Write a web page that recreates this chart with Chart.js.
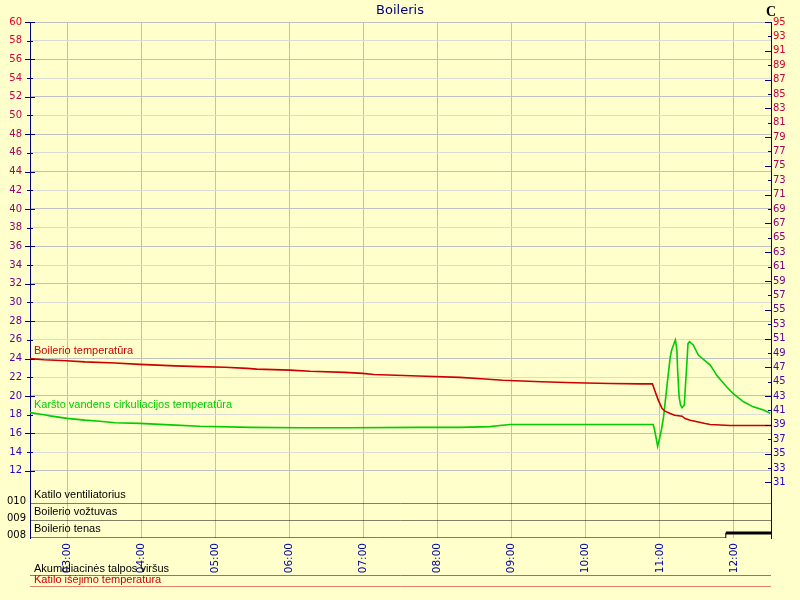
<!DOCTYPE html>
<html>
<head>
<meta charset="utf-8">
<title>Boileris</title>
<script src="https://cdn.jsdelivr.net/npm/chart.js@4.4.0/dist/chart.umd.min.js"></script>
<style>
    body { margin: 0; background: #ffffcc; }
    #wrap { position: relative; width: 800px; height: 600px; }
    #wrap canvas { position: absolute; left: 0; }
    #mainChart { top: 0; }
    #bottomChart { top: 560px; }
</style>
</head>
<body>
<div id="wrap">
    <canvas id="mainChart" width="800" height="600"></canvas>
    <canvas id="bottomChart" width="800" height="40"></canvas>
</div>
<script>
// =====================
// Data (time in hours, temperature in C)
// =====================
const xTicks = [3, 4, 5, 6, 7, 8, 9, 10, 11, 12];
const leftTicks = [12, 14, 16, 18, 20, 22, 24, 26, 28, 30, 32, 34, 36, 38, 40, 42, 44, 46, 48, 50, 52, 54, 56, 58, 60];
const rightTicks = [31, 33, 35, 37, 39, 41, 43, 45, 47, 49, 51, 53, 55, 57, 59, 61, 63, 65, 67, 69, 71, 73, 75, 77, 79, 81, 83, 85, 87, 89, 91, 93, 95];

const boilerTimes = [2.5, 2.69, 2.99, 3.24, 3.65, 3.98, 4.46, 4.79, 5.13, 5.43, 5.56, 6.01, 6.28, 6.75, 6.99, 7.14, 7.74, 8.30, 8.59, 8.88, 9.40, 9.85, 10.33, 10.73, 10.90, 10.93, 10.98, 11.03, 11.07, 11.14, 11.20, 11.30, 11.34, 11.41, 11.52, 11.61, 11.68, 11.95, 12.5];
const boilerTemps = [48.2, 48.05, 47.9, 47.75, 47.6, 47.4, 47.2, 47.1, 47.0, 46.85, 46.75, 46.6, 46.45, 46.3, 46.15, 46.0, 45.8, 45.6, 45.4, 45.2, 45.0, 44.85, 44.75, 44.7, 44.7, 43.8, 42.4, 41.27, 40.9, 40.58, 40.34, 40.2, 39.88, 39.65, 39.4, 39.18, 39.05, 38.9, 38.9];

const circTimes = [2.5, 2.69, 2.77, 3.0, 3.24, 3.44, 3.65, 3.98, 4.39, 4.79, 5.47, 6.14, 6.82, 7.76, 8.30, 8.71, 8.84, 8.98, 10.19, 10.91, 10.93, 10.96, 10.97, 10.99, 11.02, 11.05, 11.08, 11.11, 11.14, 11.16, 11.20, 11.21, 11.23, 11.24, 11.26, 11.28, 11.30, 11.33, 11.35, 11.37, 11.38, 11.40, 11.45, 11.52, 11.60, 11.68, 11.77, 11.90, 11.99, 12.13, 12.26, 12.40, 12.49];
const circTemps = [40.7, 40.4, 40.25, 39.9, 39.65, 39.5, 39.3, 39.2, 39.0, 38.8, 38.65, 38.6, 38.6, 38.65, 38.65, 38.75, 38.9, 39.05, 39.05, 39.05, 38.25, 36.6, 36.0, 36.85, 38.25, 40.1, 42.9, 45.7, 48.45, 49.4, 50.55, 50.8, 49.4, 46.6, 42.9, 41.73, 41.4, 41.73, 45.2, 48.45, 50.3, 50.55, 50.1, 48.7, 48.0, 47.3, 45.85, 44.3, 43.35, 42.2, 41.5, 41.05, 40.6];

// digital channels (0 = off, 1 = on)
const fanTimes = [2.5, 12.5];
const fanStates = [0, 0];
const valveTimes = [2.5, 12.5];
const valveStates = [0, 0];
const heaterTimes = [2.5, 11.88, 11.89, 12.5];
const heaterStates = [0, 0, 1, 1];

const tankTopTimes = [2.5, 12.5];
const tankTopValues = [0, 0];
const boilerOutTimes = [2.5, 12.5];
const boilerOutValues = [0, 0];

function toPoints(xs, ys) {
    return xs.map((x, i) => ({ x: x, y: ys[i] }));
}

function fmtHour(v) {
    return (v < 10 ? '0' : '') + v + ':00';
}

// red at the top of the scale, blue at the bottom
function gradColor(f) {
    const r = Math.round(230 + (40 - 230) * f);
    const b = Math.round(40 + (210 - 40) * f);
    return 'rgb(' + r + ',0,' + b + ')';
}

const NAVY = '#000080';
const tickFont = { family: 'DejaVu Sans', size: 10 };

// =====================
// Plugins
// =====================
const tickMarks = {
    id: 'tickMarks',
    afterDraw(chart) {
        const ctx = chart.ctx;
        const yl = chart.scales.yL;
        const yr = chart.scales.yR;
        ctx.save();
        ctx.strokeStyle = NAVY;
        ctx.lineWidth = 1;
        ctx.beginPath();
        yl.ticks.forEach(t => {
            const y = Math.round(yl.getPixelForValue(t.value)) + 0.5;
            const len = t.value % 4 === 0 ? 5 : 3;
            ctx.moveTo(yl.right - len, y);
            ctx.lineTo(yl.right + len, y);
        });
        yr.ticks.forEach(t => {
            const y = Math.round(yr.getPixelForValue(t.value)) + 0.5;
            const len = (95 - t.value) % 4 === 0 ? 6 : 3;
            ctx.moveTo(yr.left - len, y);
            ctx.lineTo(yr.left + 1, y);
        });
        ctx.stroke();

        // unit label over the right axis
        ctx.fillStyle = '#000000';
        ctx.font = 'bold 14px "Liberation Serif"';
        ctx.textAlign = 'center';
        ctx.textBaseline = 'middle';
        ctx.fillText('C', yr.left, 12);
        ctx.restore();
    }
};

const seriesLabels = {
    id: 'seriesLabels',
    afterDatasetsDraw(chart) {
        const ctx = chart.ctx;
        const left = chart.chartArea.left + 4;
        ctx.save();
        ctx.font = '11px "Liberation Sans"';
        ctx.textAlign = 'left';
        chart.data.datasets.forEach(ds => {
            const scale = chart.scales[ds.yAxisID];
            ctx.fillStyle = ds.textColor || ds.borderColor;
            if (ds.digital) {
                ctx.textBaseline = 'top';
                ctx.fillText(ds.label, left, scale.top + 2);
            } else {
                ctx.textBaseline = 'bottom';
                ctx.fillText(ds.label, left, scale.getPixelForValue(ds.data[0].y) - 2);
            }
        });
        ctx.restore();
    }
};

// =====================
// Main chart
// =====================
function digitalAxis(code, order) {
    return {
        type: 'linear',
        position: 'left',
        stack: 'left',
        stackWeight: 17,
        weight: order,
        min: 0,
        max: 3.4,
        afterFit: s => { s.width = 30; },
        afterBuildTicks: s => { s.ticks = [{ value: 0.6 }]; },
        grid: { drawOnChartArea: false, drawTicks: false },
        border: { color: NAVY },
        ticks: { callback: () => code, color: '#000000', font: tickFont, padding: 4 }
    };
}

new Chart(document.getElementById('mainChart'), {
    type: 'line',
    data: {
        datasets: [
            {
                label: 'Boilerio temperatūra',
                data: toPoints(boilerTimes, boilerTemps),
                yAxisID: 'yR',
                borderColor: '#cc0000',
                borderWidth: 1.6
            },
            {
                label: 'Karšto vandens cirkuliacijos temperatūra',
                data: toPoints(circTimes, circTemps),
                yAxisID: 'yR',
                borderColor: '#00cc00',
                borderWidth: 1.6
            },
            {
                label: 'Katilo ventiliatorius',
                data: toPoints(fanTimes, fanStates),
                yAxisID: 'd10',
                digital: true,
                borderColor: '#000000',
                borderWidth: 1
            },
            {
                label: 'Boilerio vožtuvas',
                data: toPoints(valveTimes, valveStates),
                yAxisID: 'd9',
                digital: true,
                borderColor: '#000000',
                borderWidth: 1
            },
            {
                label: 'Boilerio tenas',
                data: toPoints(heaterTimes, heaterStates),
                yAxisID: 'd8',
                digital: true,
                borderColor: '#000000',
                borderWidth: 1,
                segment: {
                    borderWidth: c => (c.p0.parsed.y > 0.5 && c.p1.parsed.y > 0.5) ? 3 : 1
                }
            }
        ]
    },
    options: {
        responsive: false,
        animation: false,
        layout: { padding: 0 },
        elements: { point: { radius: 0 }, line: { tension: 0 } },
        plugins: {
            legend: { display: false },
            tooltip: { enabled: false },
            title: {
                display: true,
                text: 'Boileris',
                color: NAVY,
                font: { family: 'DejaVu Sans', size: 13, weight: 'normal' },
                padding: { top: 3, bottom: 3.4 }
            }
        },
        scales: {
            x: {
                type: 'linear',
                min: 2.5,
                max: 12.5,
                afterFit: s => { s.height = 62; },
                afterBuildTicks: s => { s.ticks = xTicks.map(v => ({ value: v })); },
                grid: { color: '#c0c0c0', drawTicks: false },
                border: { display: false },
                ticks: {
                    callback: v => fmtHour(v),
                    color: '#0000a0',
                    font: { family: 'DejaVu Sans', size: 10.5 },
                    minRotation: 90,
                    maxRotation: 90,
                    padding: 5,
                    autoSkip: false
                }
            },
            yL: {
                type: 'linear',
                position: 'left',
                stack: 'left',
                stackWeight: 465,
                weight: 4,
                min: 10.26,
                max: 60,
                afterFit: s => { s.width = 30; },
                afterBuildTicks: s => { s.ticks = leftTicks.map(v => ({ value: v })); },
                grid: {
                    drawTicks: false,
                    color: c => (c.tick && c.tick.value % 4 === 0) ? '#c0c0c0' : '#dadad6'
                },
                border: { color: NAVY },
                ticks: {
                    font: tickFont,
                    padding: 8,
                    autoSkip: false,
                    color: c => gradColor((60 - c.tick.value) / 48)
                }
            },
            d10: digitalAxis('010', 3),
            d9: digitalAxis('009', 2),
            d8: digitalAxis('008', 1),
            yR: {
                type: 'linear',
                position: 'right',
                min: 23.27,
                max: 95,
                afterFit: s => { s.width = 29; },
                afterBuildTicks: s => { s.ticks = rightTicks.map(v => ({ value: v })); },
                grid: { drawOnChartArea: false, drawTicks: false },
                border: { color: NAVY },
                ticks: {
                    font: tickFont,
                    padding: 2,
                    autoSkip: false,
                    color: c => gradColor((95 - c.tick.value) / 64)
                }
            }
        }
    },
    plugins: [tickMarks, seriesLabels]
});

// =====================
// Bottom strip
// =====================
new Chart(document.getElementById('bottomChart'), {
    type: 'line',
    data: {
        datasets: [
            {
                label: 'Akumuliacinės talpos viršus',
                data: toPoints(tankTopTimes, tankTopValues),
                yAxisID: 'ya',
                borderColor: '#000000',
                borderWidth: 1
            },
            {
                label: 'Katilo išėjimo temperatūra',
                data: toPoints(boilerOutTimes, boilerOutValues),
                yAxisID: 'yb',
                borderColor: '#cc0000',
                borderWidth: 1
            }
        ]
    },
    options: {
        responsive: false,
        animation: false,
        layout: { padding: { left: 30, right: 29, top: 0, bottom: 13 } },
        elements: { point: { radius: 0 }, line: { tension: 0 } },
        plugins: { legend: { display: false }, tooltip: { enabled: false } },
        scales: {
            x: { type: 'linear', min: 2.5, max: 12.5, display: false },
            ya: { type: 'linear', position: 'left', stack: 'b', stackWeight: 16, weight: 2, min: 0, max: 1, display: false },
            yb: { type: 'linear', position: 'left', stack: 'b', stackWeight: 11, weight: 1, min: 0, max: 1, display: false }
        }
    },
    plugins: [seriesLabels]
});
</script>
</body>
</html>
